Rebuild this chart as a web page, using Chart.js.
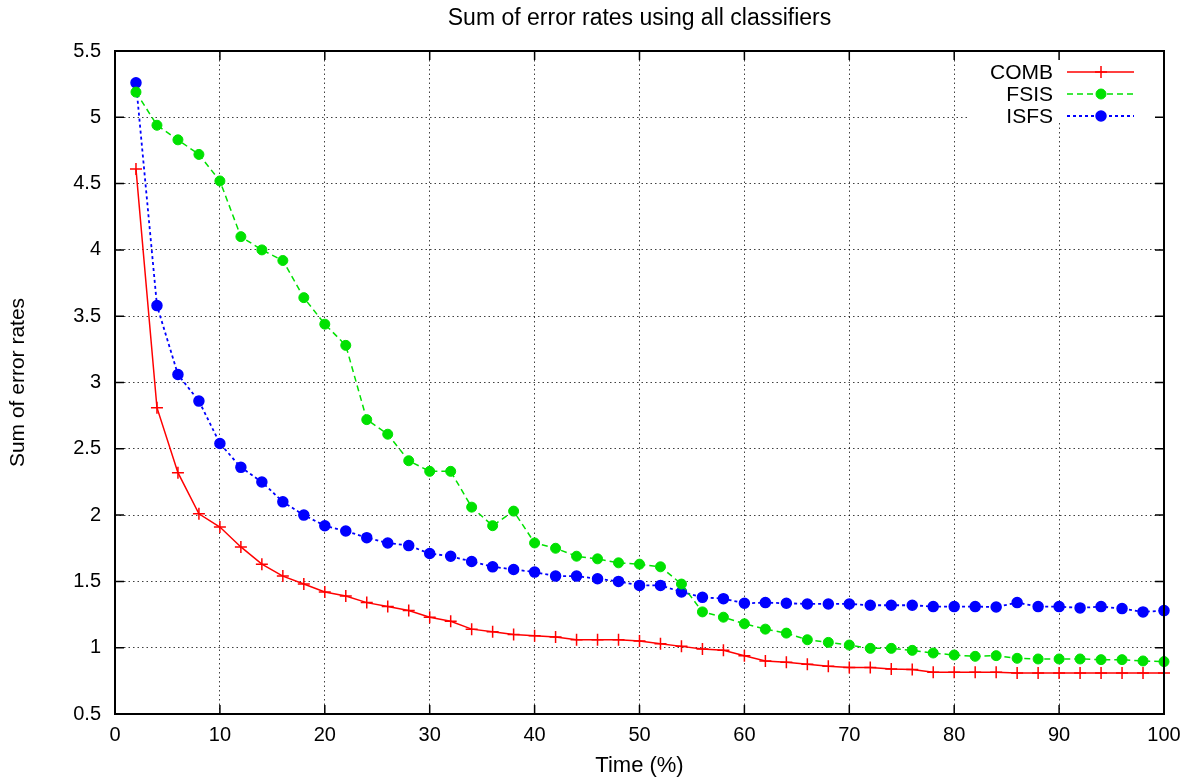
<!DOCTYPE html>
<html>
<head>
<meta charset="utf-8">
<title>Sum of error rates using all classifiers</title>
<script src="https://cdn.jsdelivr.net/npm/chart.js@4.4.0/dist/chart.umd.min.js"></script>
<style>
body{margin:0;background:#fff;}
canvas{display:block;}
</style>
</head>
<body>
<canvas id="chart" width="1190" height="780"></canvas>
<script>
const chartTitle="Sum of error rates using all classifiers";
const xTitle="Time (%)";
const yTitle="Sum of error rates";

// time points (%)
const timePct=[2,4,6,8,10,12,14,16,18,20,22,24,26,28,30,32,34,36,38,40,
  42,44,46,48,50,52,54,56,58,60,62,64,66,68,70,72,74,76,78,80,
  82,84,86,88,90,92,94,96,98,100];

const comb=[4.61,2.81,2.32,2.01,1.91,1.76,1.63,1.54,1.48,1.42,
  1.39,1.34,1.31,1.28,1.23,1.20,1.14,1.12,1.10,1.09,
  1.08,1.06,1.06,1.06,1.05,1.03,1.01,0.99,0.98,0.94,
  0.90,0.89,0.875,0.86,0.85,0.85,0.84,0.835,0.815,0.815,
  0.815,0.815,0.81,0.81,0.81,0.81,0.81,0.81,0.81,0.81];

const fsis=[5.19,4.94,4.83,4.72,4.52,4.10,4.00,3.92,3.64,3.44,
  3.28,2.72,2.61,2.41,2.33,2.33,2.06,1.92,2.03,1.79,
  1.75,1.69,1.67,1.64,1.63,1.61,1.48,1.27,1.23,1.18,
  1.14,1.11,1.06,1.04,1.02,0.995,0.995,0.98,0.96,0.945,
  0.935,0.94,0.92,0.915,0.915,0.915,0.91,0.91,0.90,0.895];

const isfs=[5.26,3.58,3.06,2.86,2.54,2.36,2.25,2.10,2.00,1.92,
  1.88,1.83,1.79,1.77,1.71,1.69,1.65,1.61,1.59,1.57,
  1.54,1.54,1.52,1.50,1.47,1.47,1.42,1.38,1.37,1.335,
  1.34,1.335,1.33,1.33,1.33,1.32,1.32,1.32,1.31,1.31,
  1.31,1.307,1.34,1.31,1.31,1.30,1.31,1.295,1.27,1.28];

const xTicks=[0,10,20,30,40,50,60,70,80,90,100];
const xTickLabels=["0","10","20","30","40","50","60","70","80","90","100"];
const yTicks=[0.5,1,1.5,2,2.5,3,3.5,4,4.5,5,5.5];
const yTickLabels=["0.5","1","1.5","2","2.5","3","3.5","4","4.5","5","5.5"];

const FONT="'Liberation Sans', Arial, Helvetica, sans-serif";

const pts=(vals)=>timePct.map((t,i)=>({x:t,y:vals[i]}));

// border, inward ticks, legend and title (gnuplot look)
const framePlugin={
  id:'frame',
  afterDatasetsDraw(chart){
    const {ctx,chartArea:a,scales:{x,y}}=chart;
    ctx.save();
    // legend background
    ctx.fillStyle='#fff';
    ctx.fillRect(a.right-197,a.top,197,72);

    ctx.strokeStyle='#000';
    ctx.lineWidth=2;
    ctx.setLineDash([]);
    ctx.strokeRect(a.left,a.top,a.right-a.left,a.bottom-a.top);
    ctx.lineWidth=1.5;
    ctx.beginPath();
    xTicks.forEach(v=>{
      const px=x.getPixelForValue(v);
      ctx.moveTo(px,a.bottom);ctx.lineTo(px,a.bottom-9);
      ctx.moveTo(px,a.top);ctx.lineTo(px,a.top+9);
    });
    yTicks.forEach(v=>{
      const py=y.getPixelForValue(v);
      ctx.moveTo(a.left,py);ctx.lineTo(a.left+9,py);
      ctx.moveTo(a.right,py);ctx.lineTo(a.right-9,py);
    });
    ctx.stroke();

    // legend entries
    ctx.font="21px "+FONT;
    ctx.textAlign='right';
    ctx.textBaseline='middle';
    chart.data.datasets.forEach((ds,i)=>{
      const ly=a.top+21+i*22;
      ctx.fillStyle='#000';
      ctx.fillText(ds.label,a.right-111,ly+1);
      ctx.strokeStyle=ds.borderColor;
      ctx.lineWidth=ds.borderWidth;
      ctx.setLineDash(ds.borderDash||[]);
      ctx.beginPath();
      ctx.moveTo(a.right-97,ly);ctx.lineTo(a.right-30,ly);
      ctx.stroke();
      ctx.setLineDash([]);
      const mx=a.right-63;
      if(ds.pointStyle==='cross'){
        ctx.lineWidth=ds.pointBorderWidth;
        ctx.beginPath();
        ctx.moveTo(mx-ds.pointRadius,ly);ctx.lineTo(mx+ds.pointRadius,ly);
        ctx.moveTo(mx,ly-ds.pointRadius);ctx.lineTo(mx,ly+ds.pointRadius);
        ctx.stroke();
      }else{
        ctx.fillStyle=ds.pointBackgroundColor;
        ctx.lineWidth=ds.pointBorderWidth;
        ctx.beginPath();
        ctx.arc(mx,ly,ds.pointRadius,0,Math.PI*2);
        ctx.fill();ctx.stroke();
      }
    });

    // title centred over the plot
    ctx.font="23px "+FONT;
    ctx.fillStyle='#000';
    ctx.textAlign='center';
    ctx.fillText(chartTitle,(a.left+a.right)/2,19);
    ctx.restore();
  }
};

const ctx=document.getElementById('chart');
new Chart(ctx,{
  type:'line',
  data:{
    datasets:[{
      label:'COMB',
      data:pts(comb),
      borderColor:'rgb(255,0,0)',
      borderWidth:1.5,
      pointStyle:'cross',
      pointRadius:6,
      pointBorderWidth:1.5,
      pointBackgroundColor:'rgb(255,0,0)',
      pointBorderColor:'rgb(255,0,0)',
      clip:false
    },{
      label:'FSIS',
      data:pts(fsis),
      borderColor:'rgb(0,225,0)',
      borderWidth:1.5,
      borderDash:[6,4],
      pointStyle:'circle',
      pointRadius:5,
      pointBorderWidth:1,
      pointBackgroundColor:'rgb(0,225,0)',
      pointBorderColor:'rgb(0,225,0)',
      clip:false
    },{
      label:'ISFS',
      data:pts(isfs),
      borderColor:'rgb(0,0,255)',
      borderWidth:1.8,
      borderDash:[3,3],
      pointStyle:'circle',
      pointRadius:5,
      pointBorderWidth:1.5,
      pointBackgroundColor:'rgb(0,0,255)',
      pointBorderColor:'rgb(0,0,255)',
      clip:false
    }]
  },
  options:{
    responsive:false,
    animation:false,
    devicePixelRatio:1,
    layout:{padding:{top:51,right:26,bottom:0,left:0}},
    plugins:{legend:{display:false},title:{display:false},tooltip:{enabled:false}},
    elements:{line:{tension:0}},
    scales:{
      x:{
        type:'linear',min:0,max:100,
        afterBuildTicks:(s)=>{s.ticks=xTicks.map(v=>({value:v}));},
        afterFit:(s)=>{s.height=66;},
        grid:{color:'rgba(0,0,0,0.75)',lineWidth:1,drawTicks:false},
        border:{display:false,dash:[1.5,3]},
        ticks:{padding:9,color:'#000',font:{family:FONT,size:20},maxRotation:0,
          callback:(v,i)=>xTickLabels[i]},
        title:{display:true,text:xTitle,color:'#000',font:{family:FONT,size:22},padding:{top:0,bottom:1}}
      },
      y:{
        type:'linear',min:0.5,max:5.5,
        afterBuildTicks:(s)=>{s.ticks=yTicks.map(v=>({value:v}));},
        afterFit:(s)=>{s.width=115;},
        grid:{color:'rgba(0,0,0,0.75)',lineWidth:1,drawTicks:false},
        border:{display:false,dash:[1.5,3]},
        ticks:{padding:14,color:'#000',font:{family:FONT,size:20},
          callback:(v,i)=>yTickLabels[i]},
        title:{display:true,text:yTitle,color:'#000',font:{family:FONT,size:21},padding:{top:6,bottom:0}}
      }
    }
  },
  plugins:[framePlugin]
});
</script>
</body>
</html>
